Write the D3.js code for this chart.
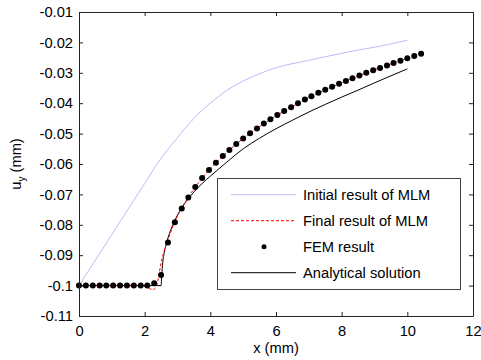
<!DOCTYPE html>
<html>
<head>
<meta charset="utf-8">
<script src="https://cdn.jsdelivr.net/npm/d3@7"></script>
<style>
  body { margin: 0; background: #fff; }
  svg text { font-family: Arial, "Liberation Sans", sans-serif; fill: #000; }
</style>
</head>
<body>
<svg id="chart" width="481" height="360"></svg>
<script>
// x ticks / y ticks
const xTicks = [0, 2, 4, 6, 8, 10, 12];
const yTicks = [-0.11, -0.1, -0.09, -0.08, -0.07, -0.06, -0.05, -0.04, -0.03, -0.02, -0.01];
const yTickLabels = ['-0.11', '-0.1', '-0.09', '-0.08', '-0.07', '-0.06', '-0.05', '-0.04', '-0.03', '-0.02', '-0.01'];

// Initial result of MLM
const initX = [0, 1.0, 2.0, 2.5, 2.7, 3.0, 3.25, 3.5, 3.75, 4.0, 4.5, 5.0, 5.5, 6.0, 6.5, 7.0, 7.5, 8.0, 8.5, 9.0, 9.5, 10.0];
const initY = [-0.1, -0.0832, -0.0664, -0.0581, -0.0553, -0.0513, -0.0480, -0.0450, -0.0423, -0.0400, -0.0358, -0.0327, -0.0303,
  -0.0283, -0.0270, -0.0259, -0.0247, -0.0236, -0.0225, -0.0216, -0.0205, -0.0193];

// Final result of MLM
const finalX = [0, 1.8, 2.0, 2.15, 2.25, 2.33, 2.4, 2.45, 2.5, 2.57, 2.7, 2.9, 3.1, 3.3, 3.5, 3.75, 4.0, 4.5, 5.0, 5.5, 6.0, 6.5,
  7.0, 7.5, 8.0, 8.5, 9.0, 9.5, 10.0];
const finalY = [-0.1, -0.0999, -0.1003, -0.1010, -0.1013, -0.1008, -0.0985, -0.0955, -0.0925, -0.0894, -0.0852, -0.0795, -0.0750,
  -0.0714, -0.0682, -0.0646, -0.0615, -0.0562, -0.0516, -0.0477, -0.0442, -0.0411, -0.0381, -0.0356, -0.0333, -0.0311,
  -0.0290, -0.0271, -0.0252];

// FEM result
const femX = [0, 0.21, 0.42, 0.63, 0.83, 1.04, 1.25, 1.46, 1.67, 1.88, 2.08, 2.29, 2.5, 2.71, 2.92, 3.13, 3.33, 3.54, 3.75,
  3.96, 4.17, 4.38, 4.58, 4.79, 5.0, 5.21, 5.42, 5.63, 5.83, 6.04, 6.25, 6.46, 6.67, 6.88, 7.08, 7.29, 7.5, 7.71, 7.92,
  8.13, 8.33, 8.54, 8.75, 8.96, 9.17, 9.38, 9.58, 9.79, 10.0, 10.21, 10.42];
const femY = [-0.1, -0.1, -0.1, -0.1, -0.1, -0.1, -0.1, -0.1, -0.1, -0.1, -0.1, -0.0992, -0.0965, -0.0858, -0.0792, -0.0746,
  -0.0710, -0.0676, -0.0646, -0.0620, -0.0596, -0.0574, -0.0554, -0.0534, -0.0516, -0.0499, -0.0483, -0.0467, -0.0453,
  -0.0439, -0.0426, -0.0413, -0.0400, -0.0388, -0.0377, -0.0366, -0.0356, -0.0346, -0.0336, -0.0327, -0.0318, -0.0309,
  -0.0300, -0.0292, -0.0284, -0.0276, -0.0268, -0.0260, -0.0252, -0.0245, -0.0237];

// Analytical solution
const anaX = [0, 2.5, 2.52, 2.55, 2.6, 2.66, 2.72, 2.85, 3.0, 3.25, 3.5, 3.75, 4.0, 4.5, 5.0, 5.5, 6.0, 6.5, 7.0, 7.5, 8.0,
  8.5, 9.0, 9.5, 10.0];
const anaY = [-0.1, -0.1, -0.0965, -0.0925, -0.0890, -0.0862, -0.0840, -0.0802, -0.0768, -0.0725, -0.0692, -0.0664, -0.0640,
  -0.0594, -0.0550, -0.0515, -0.0484, -0.0456, -0.0429, -0.0404, -0.0380, -0.0357, -0.0333, -0.0310, -0.0287];

const legendLabels = ['Initial result of MLM', 'Final result of MLM', 'FEM result', 'Analytical solution'];

const svg = d3.select('#chart');
const plotL = 79, plotR = 473, plotT = 12, plotB = 316;
const fontSize = 14.7;
const initColor = '#a8a8f4';

const x = d3.scaleLinear().domain([0, 12]).range([plotL, plotR]);
const y = d3.scaleLinear().domain([-0.11, -0.01]).range([plotB, plotT]);

const zip = (xs, ys) => xs.map((v, i) => [v, ys[i]]);
const curve = d3.line().x(d => x(d[0])).y(d => y(d[1])).curve(d3.curveMonotoneX);

svg.append('rect').attr('x', plotL).attr('y', plotT).attr('width', plotR - plotL).attr('height', plotB - plotT)
  .attr('fill', '#fff');

// curves
svg.append('path').datum(zip(initX, initY))
  .attr('d', curve).attr('fill', 'none').attr('stroke', initColor).attr('stroke-width', 0.8);
svg.append('path').datum(zip(anaX, anaY))
  .attr('d', curve).attr('fill', 'none').attr('stroke', '#000').attr('stroke-width', 1);
svg.append('path').datum(zip(finalX, finalY))
  .attr('d', curve).attr('fill', 'none').attr('stroke', '#f00').attr('stroke-width', 1)
  .attr('stroke-dasharray', '3,2');
svg.append('g').selectAll('circle')
  .data(zip(femX, femY))
  .enter().append('circle')
  .attr('cx', d => x(d[0]))
  .attr('cy', d => y(d[1]))
  .attr('r', 3)
  .attr('fill', '#000');

// axes (inward ticks, box)
const axisColor = '#222';
const styleAxis = g => {
  g.selectAll('path, line').attr('stroke', axisColor);
  g.selectAll('text').style('font-size', fontSize + 'px').attr('fill', '#000');
  g.attr('font-family', null);
};

svg.append('g').attr('transform', `translate(0,${plotB})`)
  .call(d3.axisBottom(x).tickValues(xTicks).tickFormat(d => String(d)).tickSize(-4).tickSizeOuter(0).tickPadding(9.6))
  .call(styleAxis);
svg.append('g').attr('transform', `translate(0,${plotT})`)
  .call(d3.axisTop(x).tickValues(xTicks).tickFormat('').tickSize(-4).tickSizeOuter(0))
  .call(styleAxis);
svg.append('g').attr('transform', `translate(${plotL},0)`)
  .call(d3.axisLeft(y).tickValues(yTicks).tickFormat((d, i) => yTickLabels[i]).tickSize(-4).tickSizeOuter(0).tickPadding(6))
  .call(styleAxis);
svg.append('g').attr('transform', `translate(${plotR},0)`)
  .call(d3.axisRight(y).tickValues(yTicks).tickFormat('').tickSize(-4).tickSizeOuter(0))
  .call(styleAxis);

// axis labels
svg.append('text')
  .attr('x', (plotL + plotR) / 2).attr('y', 353)
  .attr('text-anchor', 'middle').style('font-size', fontSize + 'px')
  .text('x (mm)');

const yLabel = svg.append('text')
  .attr('transform', `translate(20.5,${(plotT + plotB) / 2}) rotate(-90)`)
  .attr('text-anchor', 'middle').style('font-size', fontSize + 'px');
yLabel.append('tspan').text('u');
yLabel.append('tspan').attr('dy', 4).style('font-size', '10px').text('y');
yLabel.append('tspan').attr('dy', -4).text(' (mm)');

// legend
const legend = svg.append('g');
legend.append('rect').attr('x', 217.5).attr('y', 178.5).attr('width', 243).attr('height', 111)
  .attr('fill', '#fff').attr('stroke', '#444').attr('stroke-width', 1);
const rowY = [194.7, 220.7, 246.7, 272.7];
const sx0 = 231, sx1 = 296;
legend.append('line').attr('x1', sx0).attr('x2', sx1).attr('y1', rowY[0]).attr('y2', rowY[0])
  .attr('stroke', initColor).attr('stroke-width', 0.8);
legend.append('line').attr('x1', sx0).attr('x2', sx1).attr('y1', rowY[1]).attr('y2', rowY[1])
  .attr('stroke', '#f00').attr('stroke-width', 1).attr('stroke-dasharray', '3,2');
legend.append('circle').attr('cx', (sx0 + sx1) / 2 + 0.5).attr('cy', rowY[2]).attr('r', 2.5).attr('fill', '#000');
legend.append('line').attr('x1', sx0).attr('x2', sx1).attr('y1', rowY[3]).attr('y2', rowY[3])
  .attr('stroke', '#000').attr('stroke-width', 1);
legend.selectAll('text.lbl')
  .data(legendLabels)
  .enter().append('text')
  .attr('class', 'lbl')
  .attr('x', 303)
  .attr('y', (d, i) => rowY[i] + 5.2)
  .style('font-size', fontSize + 'px')
  .text(d => d);
</script>
</body>
</html>
